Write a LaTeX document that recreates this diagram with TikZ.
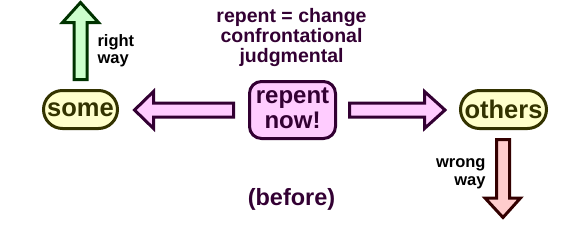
\documentclass[tikz,border=0pt]{standalone}
\usepackage{fontspec}
\setmainfont{Liberation Sans}
\definecolor{pinkf}{HTML}{FFCCFF}
\definecolor{purp}{HTML}{330033}
\definecolor{yelf}{HTML}{FFFFCC}
\definecolor{oliv}{HTML}{333300}
\definecolor{greenf}{HTML}{CCFFCC}
\definecolor{dgreen}{HTML}{003300}
\definecolor{redf}{HTML}{FFCCCC}
\definecolor{dred}{HTML}{330000}
\begin{document}
\begin{tikzpicture}[x=1pt,y=-1pt,line width=3pt,line join=miter,
  groupbox/.style={draw=oliv,fill=yelf,text=oliv,rounded corners=19pt,minimum height=38pt,inner sep=0pt,font=\fontsize{25.5}{25.5}\selectfont\bfseries},
  callbox/.style={draw=purp,fill=pinkf,text=purp,rounded corners=12pt,minimum width=86pt,minimum height=57pt,inner sep=0pt,align=center,text depth=4pt,font=\fontsize{24}{25}\selectfont\bfseries},
  pinkarrow/.style={draw=purp,fill=pinkf},
  greenarrow/.style={draw=dgreen,fill=greenf},
  redarrow/.style={draw=dred,fill=redf},
  waylabel/.style={inner sep=0pt,text=black,font=\fontsize{16.5}{17.5}\selectfont\bfseries},
  titletext/.style={inner sep=0pt,text=purp,align=center,font=\fontsize{19.5}{20}\selectfont\bfseries}]
\useasboundingbox (0,0) rectangle (576,228);
% nodes
\node[groupbox,minimum width=74pt] (some) at (80.5,109.5) {some};
\node[groupbox,minimum width=86pt] (others) at (503.5,109.5) {others};
\node[callbox] (call) at (292.5,110) {repent\\now!};
\node[titletext,anchor=north] (title) at (291.5,7) {repent = change\\confrontational\\judgmental};
\node[inner sep=0pt,text=purp,font=\fontsize{23.5}{23.5}\selectfont\bfseries] (before) at (291.5,199) {(before)};
\node[waylabel,anchor=north west,align=left] (right) at (96,33) {right\\way};
\node[waylabel,anchor=north east,align=right] (wrong) at (487,157.5) {wrong\\way};
% connector end points
\coordinate (lstart) at (233.5,110);
\coordinate (ltip) at (134.5,110);
\coordinate (rstart) at (349.5,110);
\coordinate (rtip) at (445,110);
\coordinate (ustart) at (80.5,79.5);
\coordinate (utip) at (80.5,2.5);
\coordinate (dstart) at (503,139.5);
\coordinate (dtip) at (503,217.5);
% block arrows
\draw[pinkarrow] (lstart) ++(0,-7) -- ++(-80,0) -- ++(0,-11.5) -- (ltip) -- ++(19,18.5) -- ++(0,-11.5) -- ++(80,0) -- cycle;
\draw[pinkarrow] (rstart) ++(0,-7) -- ++(75,0) -- ++(0,-11.5) -- (rtip) -- ++(-20.5,18.5) -- ++(0,-11.5) -- ++(-75,0) -- cycle;
\draw[greenarrow] (ustart) ++(-6.5,0) -- ++(0,-57) -- ++(-11.5,0) -- (utip) -- ++(18,20) -- ++(-11.5,0) -- ++(0,57) -- cycle;
\draw[redarrow] (dstart) ++(-6.5,0) -- ++(0,58.5) -- ++(-11.5,0) -- (dtip) -- ++(17.5,-19.5) -- ++(-11,0) -- ++(0,-58.5) -- cycle;
\end{tikzpicture}
\end{document}
